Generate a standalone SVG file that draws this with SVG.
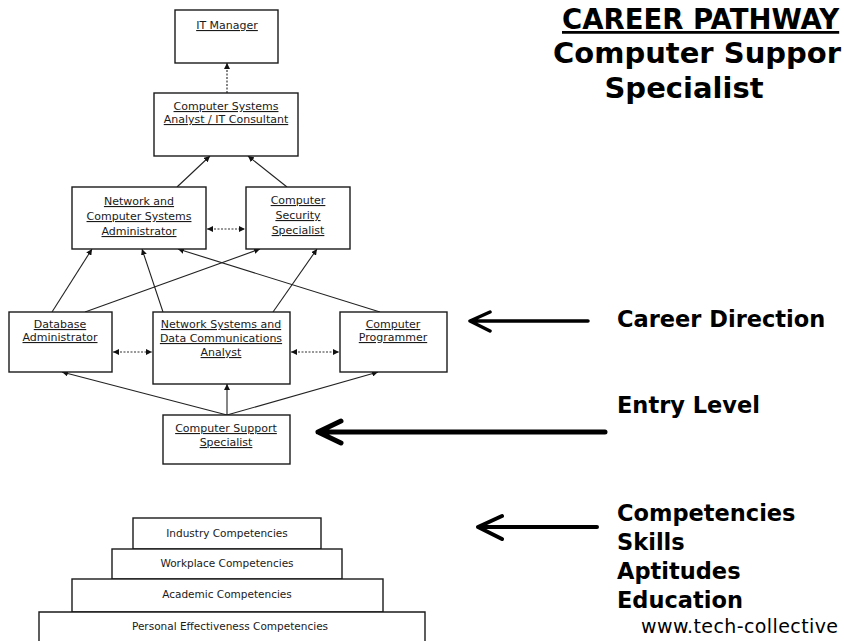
<svg xmlns="http://www.w3.org/2000/svg" width="844" height="641" viewBox="0 0 844 641">
<style>
.box{fill:#fff;stroke:#1a1a1a;stroke-width:1.4}
.nt{font-family:"DejaVu Sans","Liberation Sans",sans-serif;font-size:11px;fill:#1a1a1a;text-anchor:middle;text-decoration:underline}
.pt{font-family:"DejaVu Sans","Liberation Sans",sans-serif;font-size:10.5px;fill:#1a1a1a;text-anchor:middle}
.ln{stroke:#222;stroke-width:1.1;fill:none;marker-end:url(#ah)}
.dl{stroke:#333;stroke-width:1.1;fill:none;stroke-dasharray:2 1.5;marker-start:url(#ah);marker-end:url(#ah)}
.big{stroke:#000;fill:none;stroke-linecap:round;stroke-linejoin:round}
.lab{font-family:"DejaVu Sans","Liberation Sans",sans-serif;font-weight:bold;font-size:22.5px;fill:#000}
.ttl{font-family:"DejaVu Sans","Liberation Sans",sans-serif;font-weight:bold;font-size:28px;fill:#000}
</style>
<defs>
<marker id="ah" viewBox="0 0 10 10" refX="10" refY="5" markerWidth="6" markerHeight="6" orient="auto-start-reverse" markerUnits="userSpaceOnUse">
<path d="M0,0 L10,5 L0,10 z" fill="#111"/>
</marker>
</defs>
<rect width="844" height="641" fill="#fff"/>

<g id="connectors">
<line class="ln" x1="227" y1="93" x2="227" y2="63" style="stroke-dasharray:2 1.5"/>
<line class="ln" x1="177" y1="187" x2="210" y2="156"/>
<line class="ln" x1="287" y1="187" x2="248" y2="156"/>
<line class="dl" x1="207" y1="229" x2="245" y2="229"/>
<line class="ln" x1="52" y1="312" x2="92" y2="249"/>
<line class="ln" x1="85" y1="312" x2="260" y2="249"/>
<line class="ln" x1="163" y1="312" x2="142" y2="249"/>
<line class="ln" x1="273" y1="312" x2="317" y2="249"/>
<line class="ln" x1="380" y1="312" x2="178" y2="249"/>
<line class="dl" x1="113" y1="352" x2="152" y2="352"/>
<line class="dl" x1="291" y1="352" x2="339" y2="352"/>
<line class="ln" x1="227" y1="415" x2="62" y2="372"/>
<line class="ln" x1="227" y1="415" x2="227" y2="384"/>
<line class="ln" x1="227" y1="415" x2="378" y2="372"/>
</g>

<g id="it-manager">
<rect class="box" x="175" y="10" width="103" height="53"/>
<text class="nt" x="227" y="29">IT Manager</text>
</g>
<g id="systems-analyst">
<rect class="box" x="154" y="93" width="144" height="63"/>
<text class="nt" x="226" y="110">Computer Systems</text>
<text class="nt" x="226" y="123">Analyst / IT Consultant</text>
</g>
<g id="network-admin">
<rect class="box" x="72" y="187" width="134" height="62"/>
<text class="nt" x="139" y="205">Network and</text>
<text class="nt" x="139" y="220">Computer Systems</text>
<text class="nt" x="139" y="235">Administrator</text>
</g>
<g id="security-specialist">
<rect class="box" x="246" y="187" width="104" height="62"/>
<text class="nt" x="298" y="204">Computer</text>
<text class="nt" x="298" y="219">Security</text>
<text class="nt" x="298" y="234">Specialist</text>
</g>
<g id="database-admin">
<rect class="box" x="9" y="312" width="103" height="60"/>
<text class="nt" x="60" y="328">Database</text>
<text class="nt" x="60" y="341">Administrator</text>
</g>
<g id="network-analyst">
<rect class="box" x="153" y="312" width="137" height="72"/>
<text class="nt" x="221" y="328">Network Systems and</text>
<text class="nt" x="221" y="342">Data Communications</text>
<text class="nt" x="221" y="356">Analyst</text>
</g>
<g id="programmer">
<rect class="box" x="340" y="312" width="107" height="60"/>
<text class="nt" x="393" y="328">Computer</text>
<text class="nt" x="393" y="341">Programmer</text>
</g>
<g id="support-specialist">
<rect class="box" x="163" y="415" width="127" height="49"/>
<text class="nt" x="226" y="432">Computer Support</text>
<text class="nt" x="226" y="446">Specialist</text>
</g>

<g id="pyramid">
<rect class="box" x="133" y="518" width="188" height="31"/>
<text class="pt" x="227" y="537">Industry Competencies</text>
<rect class="box" x="112" y="549" width="230" height="30"/>
<text class="pt" x="227" y="567">Workplace Competencies</text>
<rect class="box" x="72" y="579" width="311" height="33"/>
<text class="pt" x="227" y="598">Academic Competencies</text>
<path class="box" d="M39,641 V612 H425 V641"/>
<text class="pt" x="230" y="630">Personal Effectiveness Competencies</text>
</g>

<g id="title">
<text class="ttl" x="562" y="29" style="text-decoration:underline;font-size:27.5px">CAREER PATHWAY</text>
<text class="ttl" x="553" y="63" style="font-size:29px">Computer Suppor</text>
<text class="ttl" x="684" y="98" text-anchor="middle" style="font-size:29px">Specialist</text>
</g>

<g id="career-direction">
<path class="big" d="M588,321 H470 M490,312 L470,321 L490,331" stroke-width="3.5"/>
<text class="lab" x="617" y="327">Career Direction</text>
</g>
<g id="entry-level">
<path class="big" d="M605,432 H318 M341,421 L318,432 L341,443" stroke-width="5"/>
<text class="lab" x="617" y="413">Entry Level</text>
</g>
<g id="competencies">
<path class="big" d="M597,527 H478 M502,516 L478,527 L502,539" stroke-width="4"/>
<text class="lab" x="617" y="521">Competencies</text>
<text class="lab" x="617" y="550">Skills</text>
<text class="lab" x="617" y="579">Aptitudes</text>
<text class="lab" x="617" y="608">Education</text>
<text x="641" y="633" style="font-family:'DejaVu Sans','Liberation Sans',sans-serif;font-size:19px;fill:#000;letter-spacing:0.4px">www.tech-collective</text>
</g>
</svg>
